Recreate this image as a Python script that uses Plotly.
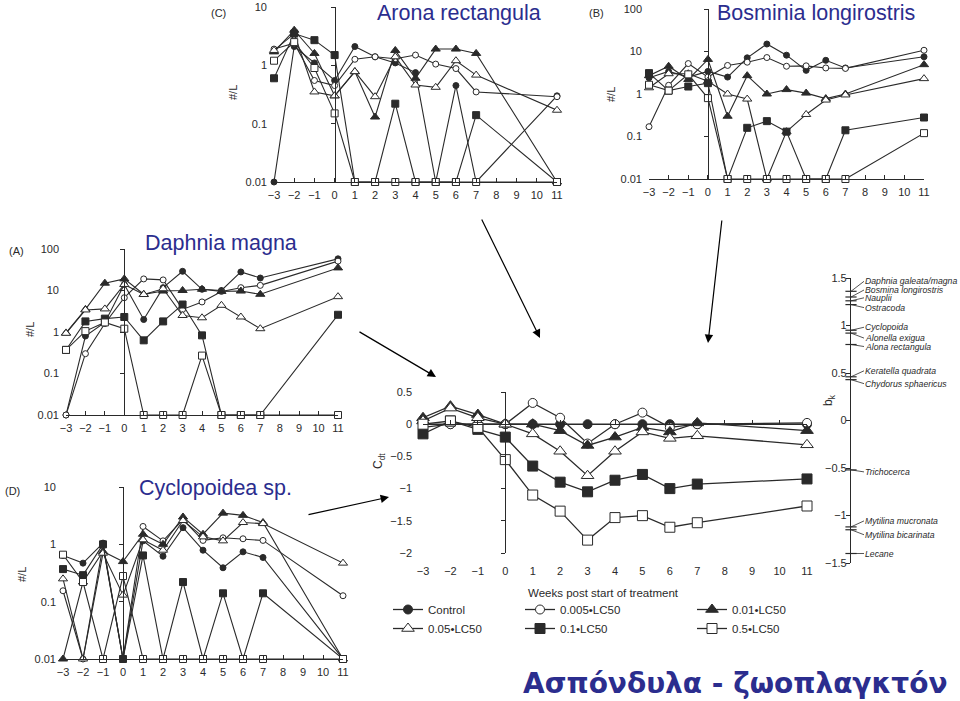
import plotly.graph_objects as go

W, H = 960, 701

# ---------------- data ----------------
weeks = [-3, -2, -1, 0, 1, 2, 3, 4, 5, 6, 7, 11]
week_ticks = list(range(-3, 12))
series_names = ["Control", "0.005•LC50", "0.01•LC50", "0.05•LC50", "0.1•LC50", "0.5•LC50"]

# (C) Arona rectangula  (#/L)
arona_control = [0.01, 2.1, 1.1, 0.55, 2.1, 1.4, 1.1, 0.75, 0.01, 0.45, 0.01, 0.3]
arona_c0005 = [1.9, 2.4, 0.55, 0.45, 1.27, 1.4, 1.3, 1.5, 1.05, 0.88, 0.35, 0.29]
arona_c001 = [1.7, 4.0, 1.6, 0.3, 0.78, 0.13, 1.8, 0.6, 1.9, 1.9, 1.6, 0.01]
arona_c005 = [1.8, 3.5, 0.35, 0.3, 0.78, 0.29, 1.4, 0.46, 0.42, 1.2, 0.68, 0.17]
arona_c01 = [0.6, 3.5, 2.7, 1.5, 0.01, 0.01, 0.22, 0.01, 0.01, 0.01, 0.14, 0.01]
arona_c05 = [1.2, 2.5, 0.9, 0.15, 0.01, 0.01, 0.01, 0.01, 0.01, 0.01, 0.01, 0.01]

# (B) Bosminia longirostris
bos_control = [2.4, 3.4, 2.5, 3.4, 2.5, 7.1, 15, 8.2, 3.6, 6.2, 4.1, 7.5]
bos_c0005 = [0.17, 1.6, 5.2, 2.5, 4.7, 5.6, 7.2, 4.5, 4.6, 4.1, 4.0, 10.7]
bos_c001 = [2.7, 4.5, 2.2, 6.5, 0.3, 2.7, 1.0, 1.27, 1.05, 0.78, 1.0, 4.9]
bos_c005 = [1.4, 3.0, 3.0, 2.0, 1.0, 0.76, 0.01, 0.13, 0.33, 0.72, 0.95, 2.3]
bos_c01 = [3.1, 1.2, 1.5, 1.8, 0.01, 0.16, 0.23, 0.13, 0.01, 0.01, 0.14, 0.28]
bos_c05 = [1.65, 1.2, 2.9, 0.8, 0.01, 0.01, 0.01, 0.01, 0.01, 0.01, 0.01, 0.12]

# (A) Daphnia magna
daph_control = [0.01, 0.8, 1.7, 14, 2.0, 11.7, 29, 10.7, 10, 28, 20, 58]
daph_c0005 = [0.01, 0.3, 1.6, 6.7, 19, 18, 3.5, 5.3, 9.5, 11.7, 13.3, 51]
daph_c001 = [0.95, 3.5, 15, 19, 8.1, 9.7, 10, 10.7, 9.5, 9.7, 8.1, 35]
daph_c005 = [0.93, 3.4, 3.6, 14, 8, 11, 2.5, 2.2, 4.4, 2.3, 1.2, 7.1]
daph_c01 = [0.37, 1.8, 2.1, 2.3, 0.63, 1.8, 4.6, 0.83, 0.01, 0.01, 0.01, 2.6]
daph_c05 = [0.37, 1.05, 1.7, 1.2, 0.01, 0.01, 0.01, 0.27, 0.01, 0.01, 0.01, 0.01]

# (D) Cyclopoidea sp.
cyc_control = [0.64, 0.47, 1.05, 0.01, 1.15, 0.62, 1.95, 0.79, 0.39, 0.74, 0.59, 0.01]
cyc_c0005 = [0.155, 0.01, 0.95, 0.01, 2.05, 1.15, 2.7, 1.17, 1.3, 1.25, 1.17, 0.127]
cyc_c001 = [0.01, 0.22, 0.75, 0.5, 1.5, 1.0, 3.0, 1.5, 3.5, 3.2, 2.4, 0.01]
cyc_c005 = [0.25, 0.01, 0.7, 0.13, 1.2, 0.79, 2.6, 1.35, 1.15, 2.4, 2.3, 0.47]
cyc_c01 = [0.37, 0.29, 1.0, 0.01, 0.64, 0.01, 0.22, 0.01, 0.14, 0.01, 0.14, 0.01]
cyc_c05 = [0.66, 0.22, 0.01, 0.28, 0.01, 0.01, 0.01, 0.01, 0.01, 0.01, 0.01, 0.01]

# Principal response curves (C_dt)
prc_control = [0, 0, 0, 0, 0, 0, 0, 0, 0, 0, 0, 0]
prc_c0005 = [-0.05, 0.0, 0.0, 0.0, 0.33, 0.1, -0.3, 0.0, 0.18, -0.05, 0.0, 0.02]
prc_c001 = [0.1, 0.28, 0.15, 0.0, 0.0, -0.1, -0.33, -0.2, -0.05, -0.12, 0.02, -0.1]
prc_c005 = [0.05, 0.25, 0.1, 0.0, -0.15, -0.42, -0.8, -0.42, -0.12, -0.22, -0.18, -0.32]
prc_c01 = [-0.15, 0.05, -0.08, -0.2, -0.65, -0.9, -1.05, -0.87, -0.78, -1.0, -0.93, -0.85]
prc_c05 = [0.0, 0.05, -0.05, -0.55, -1.1, -1.35, -1.8, -1.45, -1.42, -1.6, -1.53, -1.27]
prc_ticks = [-2, -1.5, -1, -0.5, 0, 0.5]

# species weights b_k
bk_species = ["Daphnia galeata/magna", "Bosmina longirostris", "Nauplii", "Ostracoda",
              "Cyclopoida", "Alonella exigua", "Alona rectangula", "Keratella quadrata",
              "Chydorus sphaericus", "Trichocerca", "Mytilina mucronata",
              "Mytilina bicarinata", "Lecane"]
bk_values = [1.36, 1.30, 1.26, 1.22, 0.95, 0.92, 0.80, 0.46, 0.43, -0.52, -1.12, -1.15, -1.40]
bk_ticks = [-1.5, -1, -0.5, 0, 0.5, 1, 1.5]

# ---------------- styles ----------------
FONT = "Liberation Sans, Arial, sans-serif"
INK = "#2a2a2a"
TITLE_C = "#2b2d8e"
sym = ["circle", "circle", "triangle-up", "triangle-up", "square", "square"]
filled = [True, False, True, False, True, False]
size_small = [6, 6, 8, 8, 7, 7]
size_main = [9, 9, 11, 11, 10, 10]
label_off = [-10, -7, -3, 3, -3, 5, 2, -6, 4, 2, -6, 5, 0]   # label y offsets (px)


def px(x, y):
    return x / W, 1 - y / H


def xdom(a, b):
    return [a / W, b / W]


def ydom(bottom, top):
    return [1 - bottom / H, 1 - top / H]


def text_ann(x, y, text, size, color=INK, angle=0, family=FONT):
    ax_, ay_ = px(x, y)
    return dict(x=ax_, y=ay_, xref="paper", yref="paper", text=text, showarrow=False,
                xanchor="center", yanchor="middle", textangle=angle,
                font=dict(size=size, color=color, family=family))


fig = go.Figure()
layout = dict(width=W, height=H, autosize=False, margin=dict(l=0, r=0, t=0, b=0, pad=0),
              paper_bgcolor="white", plot_bgcolor="rgba(0,0,0,0)",
              font=dict(family=FONT, color=INK, size=11), showlegend=True)
annotations = []

small_panels = [
    dict(series=[arona_control, arona_c0005, arona_c001, arona_c005, arona_c01, arona_c05],
         xd=(274, 557), yd=(182, 7), top=1, tag="(C)", tagpos=(218, 13),
         title="Arona rectangula", tpos=(459, 13), ylab=(233, 93)),
    dict(series=[bos_control, bos_c0005, bos_c001, bos_c005, bos_c01, bos_c05],
         xd=(649, 924), yd=(179, 9), top=2, tag="(B)", tagpos=(596, 13),
         title="Bosminia longirostris", tpos=(816, 13), ylab=(611, 95)),
    dict(series=[daph_control, daph_c0005, daph_c001, daph_c005, daph_c01, daph_c05],
         xd=(66, 338), yd=(415, 249), top=2, tag="(A)", tagpos=(16, 251),
         title="Daphnia magna", tpos=(221, 243), ylab=(30, 330)),
    dict(series=[cyc_control, cyc_c0005, cyc_c001, cyc_c005, cyc_c01, cyc_c05],
         xd=(63, 343), yd=(659, 487), top=1, tag="(D)", tagpos=(12, 491),
         title="Cyclopoidea sp.", tpos=(215, 488), ylab=(22, 575)),
]

overlay_id = 7
for i, p in enumerate(small_panels, start=1):
    xk = "x" if i == 1 else f"x{i}"
    yk = "y" if i == 1 else f"y{i}"
    xa = "xaxis" if i == 1 else f"xaxis{i}"
    ya = "yaxis" if i == 1 else f"yaxis{i}"
    tv = [10 ** e for e in range(-2, p["top"] + 1)]
    tt = ["0.01", "0.1", "1", "10", "100"][:len(tv)]
    layout[xa] = dict(domain=xdom(*p["xd"]), range=[-3, 11], anchor=yk, showline=True,
                      linecolor=INK, linewidth=1, ticks="inside", ticklen=4, tickcolor=INK,
                      tickvals=week_ticks, showgrid=False, zeroline=False, automargin=False,
                      tickfont=dict(size=11), ticklabelstandoff=3)
    layout[ya] = dict(domain=ydom(*p["yd"]), type="log", range=[-2, p["top"]], anchor=xk,
                      showline=False, ticks="", tickvals=tv, ticktext=tt, showgrid=False,
                      zeroline=False, automargin=False, tickfont=dict(size=11),
                      ticklabelstandoff=6)
    d = xdom(*p["xd"])
    pos = d[0] + (0 - (-3)) / 14 * (d[1] - d[0])
    oid = f"y{overlay_id}"
    layout[f"yaxis{overlay_id}"] = dict(overlaying=yk, anchor="free", position=pos, side="left",
                                        type="log", range=[-2, p["top"]], showline=True,
                                        linecolor=INK, linewidth=1.2, ticks="outside", ticklen=4,
                                        tickcolor=INK, tickvals=tv, showticklabels=False,
                                        showgrid=False, zeroline=False, automargin=False)
    fig.add_trace(go.Scatter(x=[0], y=[tv[0]], xaxis=xk, yaxis=oid, mode="markers",
                             marker=dict(opacity=0), showlegend=False, hoverinfo="skip"))
    overlay_id += 1
    for s, vals in enumerate(p["series"]):
        fig.add_trace(go.Scatter(
            x=weeks, y=vals, xaxis=xk, yaxis=yk, mode="lines+markers",
            line=dict(color=INK, width=1.1),
            marker=dict(symbol=sym[s], size=size_small[s],
                        color=INK if filled[s] else "white",
                        line=dict(color=INK, width=1)),
            cliponaxis=False, showlegend=False, hoverinfo="skip"))
    annotations.append(text_ann(*p["tagpos"], p["tag"], 11))
    annotations.append(text_ann(*p["tpos"], p["title"], 21.5, TITLE_C))
    annotations.append(text_ann(*p["ylab"], "#/L", 11, angle=-90))

# ---------------- main PRC panel ----------------
mxd = xdom(423, 807)
myd = ydom(553, 392)
layout["xaxis5"] = dict(domain=mxd, range=[-3, 11], anchor="y5", showline=False, ticks="",
                        tickvals=week_ticks, showgrid=False, zeroline=False, automargin=False,
                        tickfont=dict(size=11), ticklabelstandoff=10)
layout["yaxis5"] = dict(domain=myd, range=[-2, 0.5], anchor="x5", showline=False, ticks="",
                        tickvals=prc_ticks, showgrid=False, zeroline=False, automargin=False,
                        tickfont=dict(size=11), ticklabelstandoff=10)
pos0x = mxd[0] + 3 / 14 * (mxd[1] - mxd[0])
pos0y = myd[0] + 2 / 2.5 * (myd[1] - myd[0])
layout["yaxis11"] = dict(overlaying="y5", anchor="free", position=pos0x, side="left",
                         range=[-2, 0.5], showline=True, linecolor=INK, linewidth=1.2,
                         ticks="outside", ticklen=4, tickcolor=INK, tickvals=prc_ticks,
                         showticklabels=False, showgrid=False, zeroline=False, automargin=False)
layout["xaxis7"] = dict(overlaying="x5", anchor="free", position=pos0y, side="bottom",
                        range=[-3, 11], showline=True, linecolor=INK, linewidth=1,
                        ticks="inside", ticklen=4, tickcolor=INK, tickvals=week_ticks,
                        showticklabels=False, showgrid=False, zeroline=False, automargin=False)
fig.add_trace(go.Scatter(x=[0], y=[0], xaxis="x5", yaxis="y11", mode="markers",
                         marker=dict(opacity=0), showlegend=False, hoverinfo="skip"))
fig.add_trace(go.Scatter(x=[0], y=[0], xaxis="x7", yaxis="y5", mode="markers",
                         marker=dict(opacity=0), showlegend=False, hoverinfo="skip"))

prc_series = [prc_control, prc_c0005, prc_c001, prc_c005, prc_c01, prc_c05]
legend_of = ["legend", "legend2", "legend3", "legend", "legend2", "legend3"]
for s, vals in enumerate(prc_series):
    fig.add_trace(go.Scatter(
        x=weeks, y=vals, xaxis="x5", yaxis="y5", mode="lines+markers", name=series_names[s],
        line=dict(color=INK, width=1.3),
        marker=dict(symbol=sym[s], size=size_main[s],
                    color=INK if filled[s] else "white", line=dict(color=INK, width=1)),
        cliponaxis=False, legend=legend_of[s], hoverinfo="skip"))

leg_common = dict(orientation="v", xanchor="left", yanchor="top", bgcolor="rgba(0,0,0,0)",
                  font=dict(size=11.5, color=INK), tracegroupgap=0, itemwidth=30)
for key, xpx in (("legend", 388), ("legend2", 520), ("legend3", 692)):
    lx, ly = px(xpx, 595)
    layout[key] = dict(leg_common, x=lx, y=ly)

annotations.append(text_ann(603, 593, "Weeks post start of treatment", 11.5))
annotations.append(text_ann(379, 461, "C<sub>dt</sub>", 12, angle=-90))

# ---------------- species weight axis ----------------
layout["xaxis6"] = dict(domain=xdom(851, 940), range=[0, 1], anchor="y6", visible=False,
                        automargin=False)
layout["yaxis6"] = dict(domain=ydom(563, 278), range=[-1.5, 1.5], anchor="x6", showline=True,
                        linecolor=INK, linewidth=1.2, ticks="outside", ticklen=4, tickcolor=INK,
                        tickvals=bk_ticks, showgrid=False, zeroline=False, automargin=False,
                        tickfont=dict(size=11), ticklabelstandoff=-3)
fig.add_trace(go.Scatter(x=[0] * len(bk_values), y=bk_values, xaxis="x6", yaxis="y6",
                         mode="markers", marker=dict(symbol="line-ew", size=8,
                                                     line=dict(color=INK, width=1.2)),
                         cliponaxis=False, showlegend=False, hoverinfo="skip"))
for name, v, off in zip(bk_species, bk_values, label_off):
    annotations.append(dict(x=0, y=v, xref="x6", yref="y6", text=f"<i>{name}</i>",
                            showarrow=True, arrowhead=0, arrowwidth=0.8, arrowcolor=INK,
                            ax=13, ay=off, xanchor="left", yanchor="middle", standoff=0,
                            startstandoff=0, borderpad=0, font=dict(size=8.7, color=INK)))
annotations.append(text_ann(829, 400, "b<sub>k</sub>", 12, angle=-90))

# ---------------- connecting arrows ----------------
for (tx, ty), (hx, hy) in [((481, 218), (540, 338)), ((722, 219), (708, 343)),
                           ((358, 331), (436, 377)), ((307, 515), (389, 497))]:
    hxp, hyp = px(hx, hy)
    annotations.append(dict(x=hxp, y=hyp, xref="paper", yref="paper",
                            ax=tx - hx, ay=ty - hy, text="", showarrow=True, arrowhead=2,
                            arrowsize=1.4, arrowwidth=1.2, arrowcolor="black"))

# ---------------- bottom title ----------------
annotations.append(text_ann(735, 683, "<b>Ασπόνδυλα - ζωοπλαγκτόν</b>", 28, TITLE_C,
                            family="DejaVu Sans, Verdana, sans-serif"))

layout["annotations"] = annotations
fig.update_layout(**layout)
fig.write_html("out.html",
               config={"displayModeBar": False},
               post_script="document.body.style.margin='0px';"
                           "document.body.style.overflow='hidden';")
